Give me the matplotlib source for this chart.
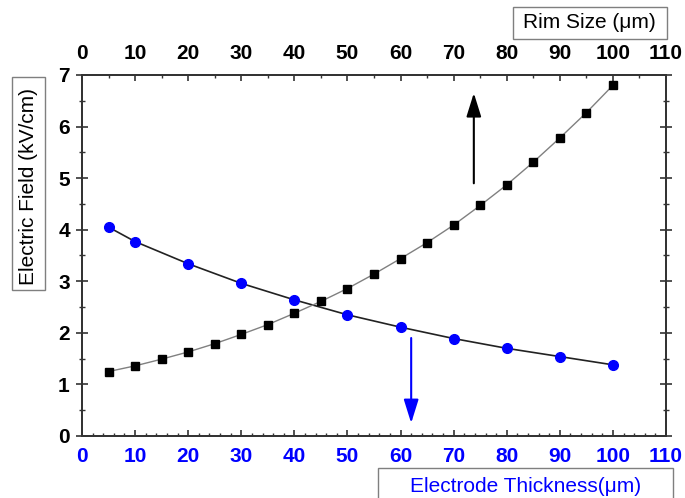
import matplotlib
matplotlib.use("Agg")
import matplotlib.pyplot as plt
from matplotlib.ticker import MultipleLocator
from matplotlib.patches import Rectangle

# Rim size sweep (top axis) and electrode thickness sweep (bottom axis)
rim_size = [5, 10, 15, 20, 25, 30, 35, 40, 45, 50, 55, 60, 65, 70, 75, 80, 85, 90, 95, 100]
field_vs_rim = [1.25, 1.36, 1.49, 1.63, 1.79, 1.97, 2.16, 2.38, 2.61, 2.86, 3.14, 3.44, 3.75,
                4.09, 4.47, 4.87, 5.31, 5.78, 6.27, 6.80]
thickness = [5, 10, 20, 30, 40, 50, 60, 70, 80, 90, 100]
field_vs_thickness = [4.05, 3.77, 3.34, 2.96, 2.64, 2.35, 2.11, 1.89, 1.70, 1.54, 1.38]

tick_font = "Liberation Sans"
label_font = "Liberation Sans"
blue = "#0000ff"
spine_col = "#333333"

fig = plt.figure(figsize=(6.85, 4.98), dpi=100)
ax = fig.add_axes([0.1197, 0.1245, 0.8526, 0.7249])
ax_top = ax.twiny()

for a in (ax, ax_top):
    for s in a.spines.values():
        s.set_linewidth(1.3)
        s.set_color(spine_col)

ax.set_xlim(0, 110)
ax.set_ylim(0, 7)
ax_top.set_xlim(0, 110)

# Electrode thickness curve (bottom axis)
ax.plot(thickness, field_vs_thickness, color="#222222", lw=1.2, zorder=2)
ax.plot(thickness, field_vs_thickness, "o", color=blue, ms=7, mec=blue, zorder=3)

# Rim size curve (top axis)
ax_top.plot(rim_size, field_vs_rim, color="#808080", lw=1.0, zorder=2)
ax_top.plot(rim_size, field_vs_rim, "s", color="black", ms=6, zorder=3)

# Arrows pointing to the axis each curve belongs to
head = "-|>,head_length=0.8,head_width=0.25"
ax_top.annotate("", xy=(73.8, 6.65), xytext=(73.8, 4.9),
                arrowprops=dict(arrowstyle=head, color="black", lw=1.5,
                                mutation_scale=18, shrinkA=0, shrinkB=0))
ax.annotate("", xy=(62, 0.25), xytext=(62, 1.9),
            arrowprops=dict(arrowstyle=head, color=blue, lw=1.5,
                            mutation_scale=18, shrinkA=0, shrinkB=0))

ax.xaxis.set_major_locator(MultipleLocator(10))
ax.xaxis.set_minor_locator(MultipleLocator(2))
ax.yaxis.set_major_locator(MultipleLocator(1))
ax.yaxis.set_minor_locator(MultipleLocator(0.5))
ax_top.xaxis.set_major_locator(MultipleLocator(10))
ax_top.xaxis.set_minor_locator(MultipleLocator(5))

ax.tick_params(axis="x", which="major", direction="in", length=4.5, width=1.2,
               colors=spine_col, labelcolor=blue, pad=8)
ax.tick_params(axis="x", which="minor", direction="in", length=2.5, width=1.0, colors=spine_col)
ax.tick_params(axis="y", which="major", direction="inout", length=8.6, width=1.2,
               colors=spine_col, labelcolor="black", right=True, pad=4.5)
ax.tick_params(axis="y", which="minor", direction="inout", length=4.5, width=1.0,
               colors=spine_col, right=True)
ax.tick_params(axis="y", which="both", labelright=False)
ax_top.tick_params(axis="x", which="major", direction="in", length=4.5, width=1.2,
                   colors=spine_col, labelcolor="black", pad=8.5)
ax_top.tick_params(axis="x", which="minor", direction="in", length=2.5, width=1.0, colors=spine_col)

for lab in ax.get_xticklabels() + ax.get_yticklabels() + ax_top.get_xticklabels():
    lab.set_fontfamily(tick_font)
    lab.set_fontweight("bold")
    lab.set_fontsize(15)


def framed_label(x0, y0, x1, y1, cx, cy, text, color="black", rotation=0):
    fig.patches.append(Rectangle((x0, y0), x1 - x0, y1 - y0, transform=fig.transFigure,
                                 fill=True, fc="white", ec="#7f7f7f", lw=1.0))
    fig.text(cx, cy, text, rotation=rotation, ha="center", va="center",
             fontfamily=label_font, fontsize=15, color=color)


framed_label(0.0175, 0.4177, 0.0657, 0.8454, 0.0416, 0.6265,
             "Electric Field (kV/cm)", rotation=90)
framed_label(0.749, 0.9217, 0.974, 0.986, 0.861, 0.954, "Rim Size (\u03bcm)")
framed_label(0.552, -0.01, 0.982, 0.0602, 0.767, 0.024,
             "Electrode Thickness(\u03bcm)", color=blue)

fig.savefig("out.png", dpi=100)
